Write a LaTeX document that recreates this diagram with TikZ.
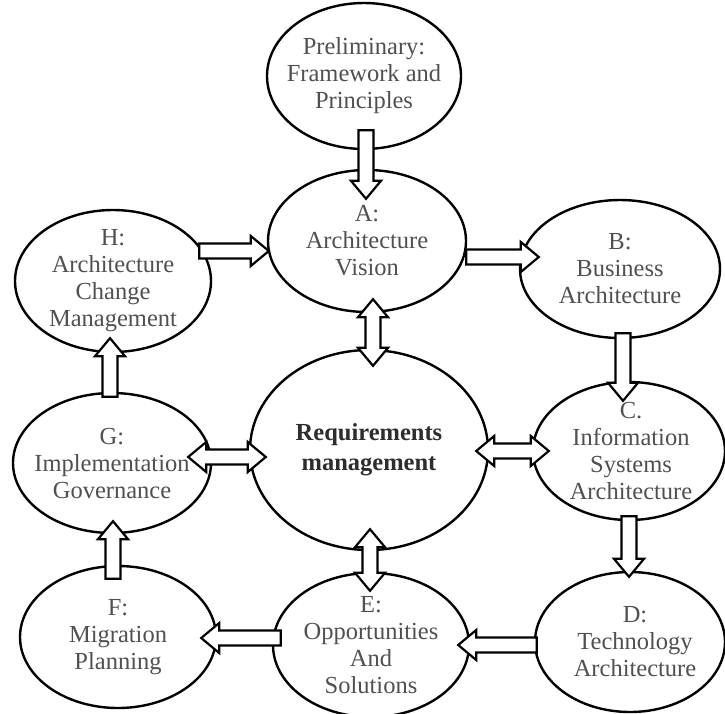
\documentclass[tikz,border=0pt]{standalone}
\usepackage{fontspec}
\setmainfont{Liberation Serif}
\usetikzlibrary{shapes.geometric,calc}
\definecolor{txtgray}{RGB}{80,80,80}
\definecolor{txtdark}{RGB}{45,45,45}
\newcommand\blockarrow[2]{%
  \draw[blk] ($(#1)!7.5pt!90:(#2)$) -- ($(#2)!18pt!(#1)!7.5pt!-90:(#1)$) -- ($(#2)!18pt!(#1)!15pt!-90:(#1)$) -- (#2) -- ($(#2)!18pt!(#1)!15pt!90:(#1)$) -- ($(#2)!18pt!(#1)!7.5pt!90:(#1)$) -- ($(#1)!7.5pt!-90:(#2)$) -- cycle;}
\newcommand\dblockarrow[2]{%
  \draw[blk] ($(#1)!18pt!(#2)!7.5pt!90:(#2)$) -- ($(#2)!18pt!(#1)!7.5pt!-90:(#1)$) -- ($(#2)!18pt!(#1)!15pt!-90:(#1)$) -- (#2) -- ($(#2)!18pt!(#1)!15pt!90:(#1)$) -- ($(#2)!18pt!(#1)!7.5pt!90:(#1)$) -- ($(#1)!18pt!(#2)!7.5pt!-90:(#2)$) -- ($(#1)!18pt!(#2)!15pt!-90:(#2)$) -- (#1) -- ($(#1)!18pt!(#2)!15pt!90:(#2)$) -- cycle;}
\tikzset{
  phase/.style={draw=black, line width=2.4pt, ellipse, inner sep=0pt, fill=white},
  txt/.style={font=\fontsize{24.5pt}{27pt}\selectfont, text=txtgray, align=center, inner sep=0pt},
  blk/.style={draw=black, fill=white, line width=2.2pt, line join=miter},
}
\begin{document}
\begin{tikzpicture}[x=1pt, y=-1pt]
\useasboundingbox (0,0) rectangle (725,713);
% ellipses
\node[phase, minimum width=194pt, minimum height=146pt] (pre) at (364,76) {};
\node[phase, minimum width=198pt, minimum height=142pt] (A) at (367,241) {};
\node[phase, minimum width=196pt, minimum height=142pt] (H) at (113,281) {};
\node[phase, minimum width=200pt, minimum height=138pt] (B) at (620,269) {};
\node[phase, minimum width=192pt, minimum height=138pt] (C) at (629,451) {};
\node[phase, minimum width=238pt, minimum height=200pt] (R) at (369,450) {};
\node[phase, minimum width=198pt, minimum height=140pt] (G) at (112,463) {};
\node[phase, minimum width=196pt, minimum height=142pt] (F) at (118,637) {};
\node[phase, minimum width=196pt, minimum height=144pt] (E) at (371,645) {};
\node[phase, minimum width=190pt, minimum height=140pt] (D) at (630,642) {};
% texts
\node[txt] (preT) at (pre) {Preliminary:\\Framework and\\Principles};
\node[txt] (AT) at (A) {A:\\Architecture\\Vision};
\node[txt] (HT) at (H) {H:\\Architecture\\Change\\Management};
\node[txt] (BT) at (B) {B:\\Business\\Architecture};
\node[txt] (CT) at ([xshift=2pt]C.center) {C.\\Information\\Systems\\Architecture};
\node[txt, text=txtdark, font=\fontsize{24.5pt}{30pt}\selectfont\bfseries] (RT) at (R) {Requirements\\management};
\node[txt] (GT) at (G) {G:\\Implementation\\Governance};
\node[txt] (FT) at (F) {F:\\Migration\\Planning};
\node[txt] (ET) at (E) {E:\\Opportunities\\And\\Solutions};
\node[txt] (DT) at ([xshift=5pt]D.center) {D:\\Technology\\Architecture};
% arrow end points
\coordinate (a1s) at ($(pre.south)+(2,-20)$);
\coordinate (a1e) at ($(A.north)+(-1,30)$);
\coordinate (a2s) at ($(H.east)+(-13,-30)$);
\coordinate (a2e) at ($(A.west)+(2,10)$);
\coordinate (a3s) at ($(A.east)+(-1,16)$);
\coordinate (a3e) at ($(B.west)+(20,-12)$);
\coordinate (a4s) at ($(B.south)+(3,-6)$);
\coordinate (a4e) at ($(C.north)+(-6,20)$);
\coordinate (a5s) at ($(R.east)+(-13,1)$);
\coordinate (a5e) at ($(C.west)+(17,0)$);
\coordinate (a6s) at ($(C.south)+(0,-5)$);
\coordinate (a6e) at ($(D.north)+(-1,6)$);
\coordinate (a7s) at ($(D.west)+(3,3)$);
\coordinate (a7e) at ($(E.east)+(-12,0)$);
\coordinate (a8s) at ($(E.west)+(9,-7)$);
\coordinate (a8e) at ($(F.east)+(-16,1)$);
\coordinate (a9s) at ($(F.north)+(-5,14)$);
\coordinate (a9e) at ($(G.south)+(1,-13)$);
\coordinate (a10s) at ($(G.north)+(-2,5)$);
\coordinate (a10e) at ($(H.south)+(-3,-15)$);
\coordinate (a11s) at ($(G.east)+(-24,-6)$);
\coordinate (a11e) at ($(R.west)+(17,7)$);
\coordinate (a12s) at ($(A.south)+(6,-14)$);
\coordinate (a12e) at ($(R.north)+(4,17)$);
\coordinate (a13s) at ($(R.south)+(1,-22)$);
\coordinate (a13e) at ($(E.north)+(-1,19)$);
% arrows
\blockarrow{a1s}{a1e}
\blockarrow{a2s}{a2e}
\blockarrow{a3s}{a3e}
\blockarrow{a4s}{a4e}
\dblockarrow{a5s}{a5e}
\blockarrow{a6s}{a6e}
\blockarrow{a7s}{a7e}
\blockarrow{a8s}{a8e}
\blockarrow{a9s}{a9e}
\blockarrow{a10s}{a10e}
\dblockarrow{a11s}{a11e}
\dblockarrow{a12s}{a12e}
\dblockarrow{a13s}{a13e}
\end{tikzpicture}
\end{document}
